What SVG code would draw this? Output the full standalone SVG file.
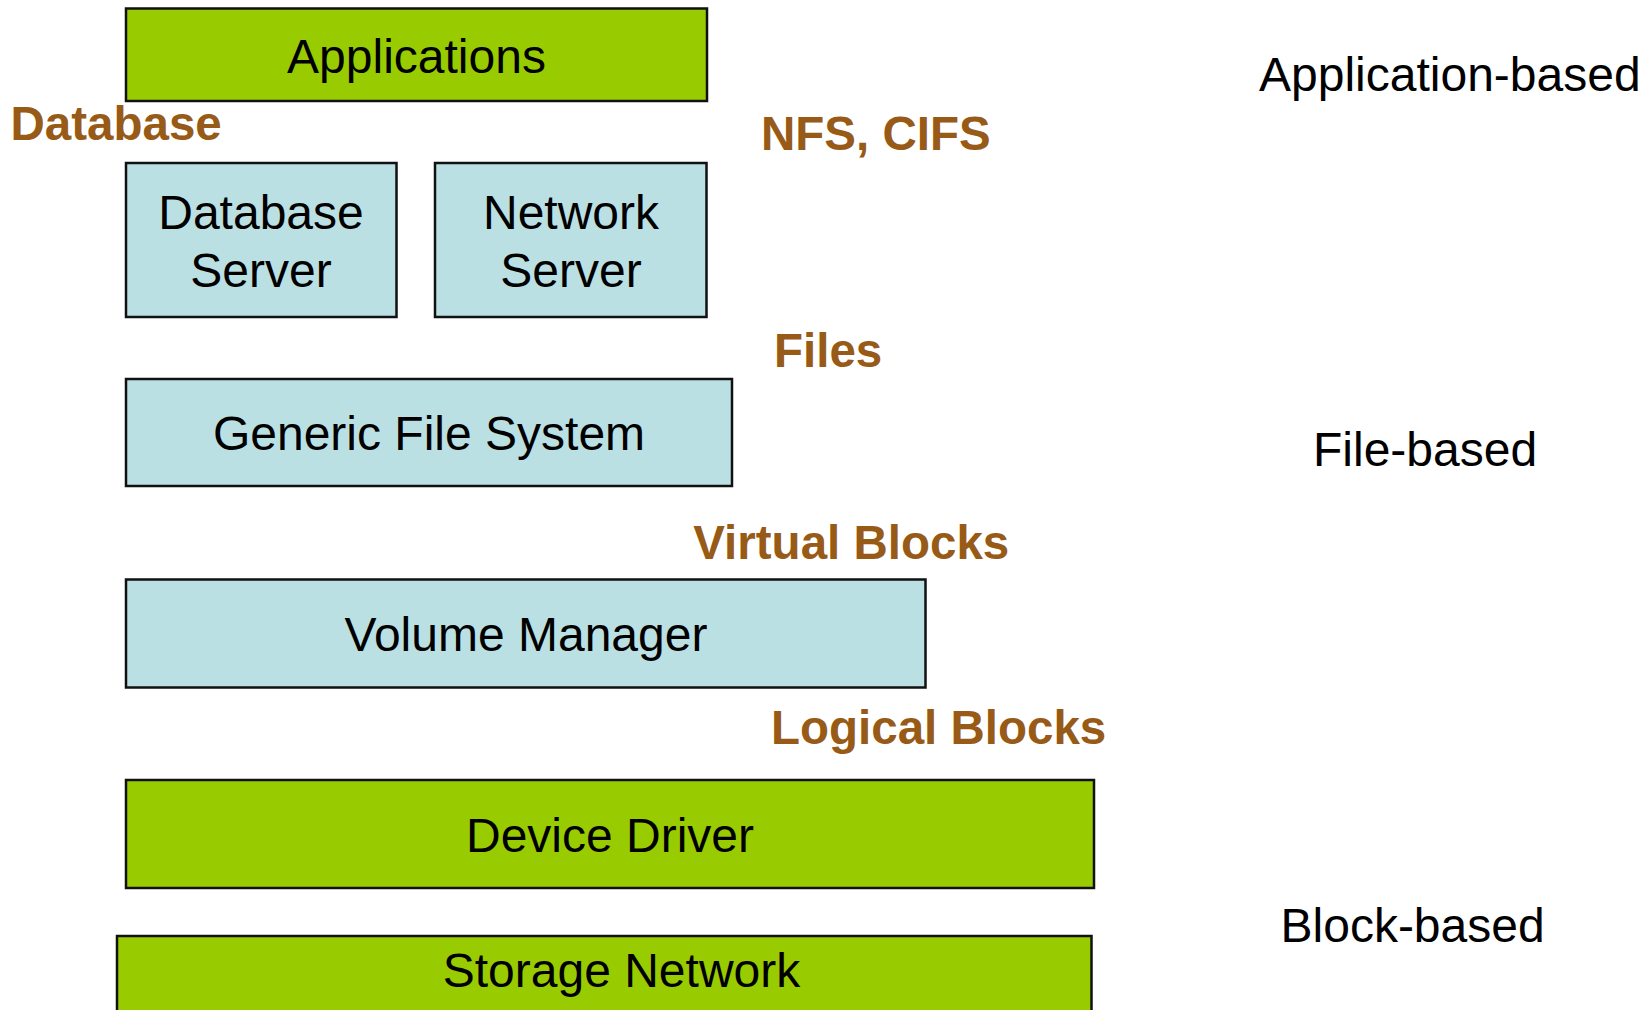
<svg xmlns="http://www.w3.org/2000/svg" width="1649" height="1010" viewBox="0 0 1649 1010">
<style>
  .box { stroke: #111; stroke-width: 2.5; }
  .green { fill: #99CC00; }
  .blue { fill: #BBE0E3; }
  .t { font-family: "Liberation Sans", Arial, sans-serif; font-size: 48px; fill: #000; }
  .c { text-anchor: middle; }
  .lbl { font-family: "Liberation Sans", Arial, sans-serif; font-size: 47.5px; font-weight: bold; fill: #975A17; }
</style>
<rect width="1649" height="1010" fill="#fff"/>
<g id="applications">
  <rect class="box green" x="126" y="8.5" width="581" height="92.5"/>
  <text class="t c" x="416.5" y="73">Applications</text>
</g>
<g id="database-server">
  <rect class="box blue" x="126" y="163" width="270.5" height="154"/>
  <text class="t c" x="261" y="229.3">Database</text>
  <text class="t c" x="261" y="286.7">Server</text>
</g>
<g id="network-server">
  <rect class="box blue" x="435" y="163" width="271.5" height="154"/>
  <text class="t c" x="571" y="229.3">Network</text>
  <text class="t c" x="571" y="286.7">Server</text>
</g>
<g id="generic-file-system">
  <rect class="box blue" x="126" y="379" width="606" height="107"/>
  <text class="t c" x="429" y="450">Generic File System</text>
</g>
<g id="volume-manager">
  <rect class="box blue" x="126" y="579.5" width="799.5" height="108"/>
  <text class="t c" x="526" y="651">Volume Manager</text>
</g>
<g id="device-driver">
  <rect class="box green" x="126" y="780" width="968" height="108"/>
  <text class="t c" x="610" y="852.3">Device Driver</text>
</g>
<g id="storage-network">
  <rect class="box green" x="117" y="936" width="974.5" height="90"/>
  <text class="t c" x="621.5" y="986.7">Storage Network</text>
</g>
<g id="connectors"></g>
<g id="labels">
  <text class="lbl" x="10.5" y="140">Database</text>
  <text class="lbl" x="761" y="150">NFS, CIFS</text>
  <text class="lbl" x="774" y="367">Files</text>
  <text class="lbl" x="693.3" y="559.3">Virtual Blocks</text>
  <text class="lbl" x="771" y="744.3">Logical Blocks</text>
  <text class="t" x="1259" y="91">Application-based</text>
  <text class="t" x="1313" y="466">File-based</text>
  <text class="t" x="1280.5" y="941.7">Block-based</text>
</g>
</svg>
